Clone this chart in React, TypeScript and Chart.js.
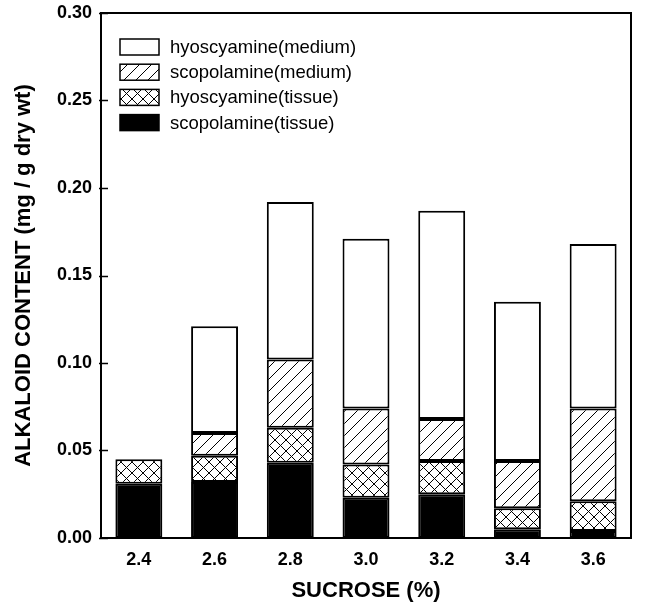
import React, { useEffect, useRef } from "react";
import { Chart, registerables } from "chart.js";

Chart.register(...registerables);

const categories = ["2.4", "2.6", "2.8", "3.0", "3.2", "3.4", "3.6"];
const scopolamineTissue = [0.031, 0.032, 0.043, 0.023, 0.025, 0.005, 0.004];
const hyoscyamineTissue = [0.014, 0.015, 0.020, 0.019, 0.019, 0.012, 0.017];
const scopolamineMedium = [0.0, 0.013, 0.039, 0.032, 0.024, 0.027, 0.053];
const hyoscyamineMedium = [0.0, 0.061, 0.090, 0.097, 0.119, 0.091, 0.094];
const yTickValues = [0, 0.05, 0.1, 0.15, 0.2, 0.25, 0.3];

const FONT = "'Liberation Sans', Arial, Helvetica, sans-serif";

function makePattern(kind: "hatch" | "cross"): CanvasPattern | string {
  const size = kind === "hatch" ? 12 : 11;
  const c = document.createElement("canvas");
  c.width = size;
  c.height = size;
  const ctx = c.getContext("2d");
  if (!ctx) return "#fff";
  ctx.fillStyle = "#fff";
  ctx.fillRect(0, 0, size, size);
  ctx.strokeStyle = "#000";
  ctx.lineWidth = 1;
  ctx.beginPath();
  ctx.moveTo(-1, size + 1);
  ctx.lineTo(size + 1, -1);
  ctx.moveTo(-2, 2);
  ctx.lineTo(2, -2);
  ctx.moveTo(size - 2, size + 2);
  ctx.lineTo(size + 2, size - 2);
  if (kind === "cross") {
    ctx.moveTo(-1, -1);
    ctx.lineTo(size + 1, size + 1);
    ctx.moveTo(size - 2, -2);
    ctx.lineTo(size + 2, 2);
    ctx.moveTo(-2, size - 2);
    ctx.lineTo(2, size + 2);
  }
  ctx.stroke();
  const p = ctx.createPattern(c, "repeat");
  return p || "#fff";
}

export default function App() {
  const ref = useRef<HTMLCanvasElement | null>(null);

  useEffect(() => {
    if (!ref.current) return;
    const hatch = makePattern("hatch");
    const cross = makePattern("cross");

    const legendItems = [
      { label: "hyoscyamine(medium)", fill: "#ffffff" as any },
      { label: "scopolamine(medium)", fill: hatch as any },
      { label: "hyoscyamine(tissue)", fill: cross as any },
      { label: "scopolamine(tissue)", fill: "#000000" as any },
    ];

    const framePlugin = {
      id: "frameAndLegend",
      afterDraw(chart: any) {
        const ctx = chart.ctx as CanvasRenderingContext2D;
        const a = chart.chartArea;
        const y = chart.scales.y;
        ctx.save();
        ctx.strokeStyle = "#000";
        ctx.lineWidth = 2;
        ctx.strokeRect(a.left, a.top, a.right - a.left, a.bottom - a.top);
        ctx.lineWidth = 1.5;
        ctx.beginPath();
        yTickValues.forEach((v) => {
          const py = Math.round(y.getPixelForValue(v)) + 0.5;
          ctx.moveTo(a.left - 2, py);
          ctx.lineTo(a.left + 7, py);
        });
        ctx.stroke();

        const boxX = a.left + 19;
        const boxW = 39;
        const boxH = 16;
        const startY = a.top + 34;
        const gap = 25.2;
        ctx.font = `18.5px ${FONT}`;
        ctx.textBaseline = "middle";
        ctx.textAlign = "left";
        legendItems.forEach((it, i) => {
          const cy = startY + i * gap;
          ctx.fillStyle = it.fill;
          ctx.fillRect(boxX, cy - boxH / 2, boxW, boxH);
          ctx.lineWidth = 1.5;
          ctx.strokeStyle = "#000";
          ctx.strokeRect(boxX, cy - boxH / 2, boxW, boxH);
          ctx.fillStyle = "#000";
          ctx.fillText(it.label, boxX + boxW + 11, cy + 1);
        });
        ctx.restore();
      },
    };

    const common = {
      borderColor: "#000",
      borderWidth: 2,
      borderSkipped: false,
      barPercentage: 0.62,
      categoryPercentage: 1,
    };

    const chart = new Chart(ref.current, {
      type: "bar",
      data: {
        labels: categories,
        datasets: [
          { label: "scopolamine(tissue)", data: scopolamineTissue, backgroundColor: "#000", ...common },
          { label: "hyoscyamine(tissue)", data: hyoscyamineTissue, backgroundColor: cross as any, ...common },
          { label: "scopolamine(medium)", data: scopolamineMedium, backgroundColor: hatch as any, ...common },
          { label: "hyoscyamine(medium)", data: hyoscyamineMedium, backgroundColor: "#fff", ...common },
        ],
      } as any,
      options: {
        responsive: false,
        animation: false,
        layout: { padding: { top: 13, right: 14, left: 0, bottom: 0 } },
        plugins: {
          legend: { display: false },
          tooltip: { enabled: false },
        },
        scales: {
          x: {
            stacked: true,
            grid: { display: false, drawTicks: false },
            border: { display: false },
            ticks: {
              color: "#000",
              padding: 11,
              font: { family: FONT, size: 18, weight: "bold" },
            },
            title: {
              display: true,
              text: "SUCROSE (%)",
              color: "#000",
              font: { family: FONT, size: 22, weight: "bold" },
              padding: { top: 0, bottom: 2 },
            },
            afterFit: (s: any) => {
              s.height = 68;
              s.paddingLeft = 0;
              s.paddingRight = 0;
            },
          },
          y: {
            stacked: true,
            min: 0,
            max: 0.3,
            grid: { display: false, drawTicks: false },
            border: { display: false },
            ticks: {
              stepSize: 0.05,
              color: "#000",
              padding: 9,
              font: { family: FONT, size: 18, weight: "bold" },
              callback: (v: any) => Number(v).toFixed(2),
            },
            title: {
              display: true,
              text: "ALKALOID CONTENT (mg / g dry wt)",
              color: "#000",
              font: { family: FONT, size: 22, weight: "bold" },
              padding: { top: 11, bottom: 0 },
            },
            afterFit: (s: any) => {
              s.width = 101;
              s.paddingTop = 0;
              s.paddingBottom = 0;
            },
          },
        },
      } as any,
      plugins: [framePlugin],
    });

    return () => chart.destroy();
  }, []);

  return (
    <div style={{ position: "absolute", left: 0, top: 0, width: 645, height: 606, background: "#fff" }}>
      <canvas ref={ref} width={645} height={606} />
    </div>
  );
}
